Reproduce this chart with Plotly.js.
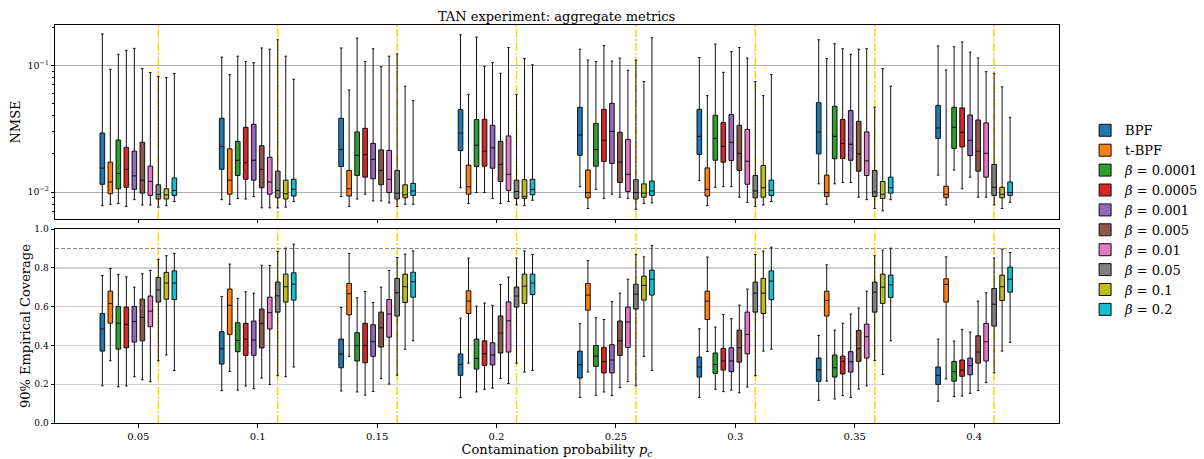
<!DOCTYPE html>
<html>
<head>
<meta charset="utf-8">
<script src="https://cdn.plot.ly/plotly-3.0.1.min.js"></script>
<style>html,body{margin:0;padding:0;background:#fff}#chart{width:1204px;height:459px}</style>
</head>
<body>
<div id="chart"></div>
<script>
// Categories (contamination probability)
const categories = ['0.05','0.1','0.15','0.2','0.25','0.3','0.35','0.4'];
const seriesNames = ['BPF','t-BPF','<i>β</i> = 0.0001','<i>β</i> = 0.0005','<i>β</i> = 0.001','<i>β</i> = 0.005','<i>β</i> = 0.01','<i>β</i> = 0.05','<i>β</i> = 0.1','<i>β</i> = 0.2'];

// NMSE box stats per category: [lower whisker, q1, median, q3, upper whisker]
const nmseBPF  = [[0.0078,0.0115,0.0154,0.0292,0.177],[0.0087,0.0151,0.0229,0.0382,0.116],[0.0092,0.0159,0.0217,0.0382,0.137],[0.0108,0.0212,0.0292,0.0447,0.174],[0.0110,0.0195,0.0282,0.0466,0.134],[0.0123,0.0198,0.0275,0.0449,0.115],[0.0116,0.0200,0.0298,0.0507,0.159],[0.0136,0.0265,0.0320,0.0483,0.142]];
const nmseTBPF = [[0.0080,0.0097,0.0120,0.0172,0.093],[0.0080,0.0096,0.0124,0.0219,0.0844],[0.0077,0.0093,0.0106,0.0148,0.0639],[0.0081,0.0096,0.0110,0.0163,0.059],[0.0074,0.0090,0.0099,0.0149,0.110],[0.0078,0.0093,0.0105,0.0155,0.0576],[0.0080,0.0092,0.0099,0.0136,0.113],[0.0079,0.0090,0.0096,0.0111,0.0919]];
const nmseB0001 = [[0.0081,0.0106,0.0140,0.0257,0.122],[0.0089,0.0135,0.0178,0.0251,0.118],[0.0088,0.0135,0.0195,0.0298,0.164],[0.0099,0.0159,0.0234,0.0373,0.167],[0.0105,0.0160,0.0216,0.0348,0.107],[0.0109,0.0178,0.0265,0.0403,0.147],[0.0116,0.0183,0.0275,0.0475,0.148],[0.0149,0.0221,0.0324,0.0466,0.140]];
const nmseB0005 = [[0.0077,0.0109,0.0151,0.0225,0.131],[0.0088,0.0126,0.0170,0.0324,0.107],[0.0096,0.0131,0.0197,0.0318,0.107],[0.0099,0.0160,0.0210,0.0375,0.0982],[0.0089,0.0174,0.0256,0.0449,0.143],[0.0110,0.0172,0.0229,0.0353,0.088],[0.0119,0.0184,0.0242,0.0373,0.135],[0.0106,0.0227,0.0296,0.0461,0.153]];
const nmseB001 = [[0.0087,0.0105,0.0134,0.0210,0.136],[0.0092,0.0124,0.0178,0.0342,0.105],[0.0085,0.0127,0.0181,0.0242,0.135],[0.0089,0.0154,0.0223,0.0336,0.105],[0.0096,0.0168,0.0301,0.0501,0.108],[0.0110,0.0177,0.0247,0.0408,0.128],[0.0119,0.0178,0.0238,0.0439,0.122],[0.0131,0.0194,0.0256,0.0405,0.127]];
const nmseB005 = [[0.0079,0.0098,0.0124,0.0247,0.0941],[0.0075,0.0108,0.0151,0.0232,0.137],[0.0085,0.0114,0.0148,0.0215,0.0976],[0.0081,0.0121,0.0165,0.0251,0.0865],[0.0091,0.0119,0.0172,0.0296,0.114],[0.0091,0.0148,0.0202,0.0336,0.138],[0.0091,0.0146,0.0200,0.0361,0.134],[0.0091,0.0146,0.0210,0.0370,0.114]];
const nmseB01 = [[0.0079,0.0094,0.0121,0.0160,0.0875],[0.0075,0.0096,0.0120,0.0188,0.134],[0.0082,0.0099,0.0126,0.0213,0.118],[0.0084,0.0103,0.0138,0.0277,0.138],[0.0089,0.0101,0.0138,0.0260,0.0913],[0.0083,0.0115,0.0175,0.0312,0.114],[0.0087,0.0135,0.0176,0.0298,0.135],[0.0091,0.0131,0.0202,0.0351,0.0891]];
const nmseB05 = [[0.0076,0.0088,0.0096,0.0114,0.0814],[0.0075,0.0090,0.0103,0.0146,0.159],[0.0077,0.0088,0.0098,0.0148,0.123],[0.0079,0.0089,0.0101,0.0124,0.059],[0.0073,0.0088,0.0099,0.0125,0.110],[0.0077,0.0090,0.0102,0.0135,0.0743],[0.0074,0.0092,0.0100,0.0148,0.0466],[0.0079,0.0094,0.0109,0.0165,0.0865]];
const nmseB1 = [[0.0078,0.0088,0.0095,0.0106,0.0799],[0.0076,0.0088,0.0097,0.0124,0.118],[0.0080,0.0090,0.0095,0.0114,0.0683],[0.0078,0.0089,0.0092,0.0125,0.113],[0.0081,0.0091,0.0098,0.0116,0.0743],[0.0079,0.0091,0.0108,0.0162,0.0576],[0.0071,0.0089,0.0096,0.0121,0.0941],[0.0074,0.0090,0.0096,0.0109,0.0675]];
const nmseB2 = [[0.0084,0.0094,0.0103,0.0129,0.086],[0.0084,0.0093,0.0105,0.0126,0.0775],[0.0080,0.0094,0.0102,0.0117,0.0526],[0.0086,0.0095,0.0105,0.0126,0.101],[0.0082,0.0094,0.0102,0.0122,0.165],[0.0084,0.0094,0.0103,0.0124,0.0844],[0.0087,0.0098,0.0108,0.0131,0.0683],[0.0083,0.0094,0.0099,0.0120,0.0389]];

// 90% empirical coverage box stats: [lower whisker, q1, median, q3, upper whisker]
const covBPF  = [[0.192,0.371,0.485,0.565,0.761],[0.167,0.304,0.383,0.471,0.653],[0.165,0.285,0.356,0.433,0.596],[0.131,0.246,0.302,0.356,0.541],[0.132,0.232,0.301,0.371,0.512],[0.132,0.237,0.289,0.340,0.486],[0.117,0.215,0.275,0.335,0.452],[0.113,0.199,0.246,0.289,0.433]];
const covTBPF = [[0.321,0.515,0.617,0.680,0.797],[0.266,0.457,0.607,0.691,0.820],[0.344,0.558,0.667,0.720,0.875],[0.309,0.565,0.629,0.682,0.851],[0.263,0.582,0.660,0.720,0.838],[0.369,0.534,0.629,0.680,0.856],[0.216,0.552,0.632,0.680,0.816],[0.227,0.624,0.715,0.744,0.857]];
const covB0001 = [[0.187,0.381,0.515,0.601,0.766],[0.170,0.368,0.426,0.517,0.643],[0.160,0.320,0.399,0.466,0.646],[0.160,0.278,0.333,0.433,0.603],[0.143,0.292,0.345,0.400,0.543],[0.174,0.256,0.302,0.361,0.495],[0.124,0.237,0.285,0.351,0.479],[0.136,0.216,0.265,0.318,0.423]];
const covB0005 = [[0.191,0.388,0.509,0.598,0.754],[0.191,0.349,0.433,0.514,0.677],[0.144,0.311,0.400,0.514,0.679],[0.174,0.297,0.357,0.424,0.619],[0.160,0.258,0.316,0.390,0.534],[0.162,0.273,0.320,0.385,0.560],[0.141,0.253,0.318,0.345,0.515],[0.139,0.241,0.273,0.325,0.483]];
const covB001 = [[0.239,0.418,0.524,0.601,0.701],[0.177,0.349,0.428,0.526,0.670],[0.163,0.344,0.419,0.507,0.622],[0.180,0.299,0.351,0.414,0.607],[0.141,0.258,0.325,0.404,0.627],[0.170,0.266,0.320,0.388,0.538],[0.132,0.263,0.316,0.368,0.562],[0.153,0.249,0.296,0.335,0.469]];
const covB005 = [[0.223,0.424,0.545,0.639,0.770],[0.232,0.387,0.514,0.588,0.814],[0.229,0.392,0.491,0.572,0.701],[0.230,0.361,0.464,0.552,0.715],[0.182,0.349,0.424,0.526,0.670],[0.156,0.314,0.388,0.479,0.608],[0.175,0.318,0.383,0.478,0.593],[0.167,0.309,0.366,0.450,0.629]];
const covB01 = [[0.213,0.497,0.577,0.655,0.787],[0.199,0.485,0.569,0.649,0.813],[0.201,0.443,0.562,0.637,0.787],[0.204,0.366,0.527,0.625,0.753],[0.213,0.390,0.521,0.598,0.742],[0.186,0.357,0.457,0.572,0.691],[0.192,0.335,0.445,0.510,0.680],[0.208,0.320,0.419,0.514,0.672]];
const covB05 = [[0.321,0.624,0.687,0.751,0.844],[0.244,0.572,0.656,0.727,0.885],[0.247,0.552,0.672,0.746,0.854],[0.309,0.598,0.655,0.701,0.851],[0.192,0.588,0.665,0.716,0.869],[0.244,0.572,0.670,0.727,0.869],[0.323,0.572,0.675,0.727,0.863],[0.259,0.500,0.613,0.694,0.851]];
const covB1 = [[0.351,0.639,0.722,0.777,0.863],[0.239,0.624,0.703,0.768,0.902],[0.381,0.622,0.703,0.768,0.871],[0.263,0.617,0.706,0.768,0.888],[0.344,0.634,0.710,0.758,0.857],[0.371,0.565,0.670,0.746,0.887],[0.251,0.617,0.701,0.768,0.892],[0.371,0.632,0.703,0.763,0.897]];
const covB2 = [[0.271,0.637,0.722,0.785,0.875],[0.289,0.634,0.716,0.775,0.923],[0.424,0.649,0.729,0.778,0.888],[0.271,0.663,0.722,0.768,0.869],[0.271,0.660,0.742,0.789,0.916],[0.381,0.637,0.732,0.785,0.907],[0.424,0.648,0.713,0.763,0.902],[0.416,0.675,0.742,0.804,0.880]];

const coverageTarget = 0.9;

const nmseSeries = [nmseBPF,nmseTBPF,nmseB0001,nmseB0005,nmseB001,nmseB005,nmseB01,nmseB05,nmseB1,nmseB2];
const covSeries  = [covBPF,covTBPF,covB0001,covB0005,covB001,covB005,covB01,covB05,covB1,covB2];
const colors = ['#1f77b4','#ff7f0e','#2ca02c','#d62728','#9467bd','#8c564b','#e377c2','#7f7f7f','#bcbd22','#17becf'];

const BOXGAP = 0.33, BOXGROUPGAP = 0.42;
const FONT = 'DejaVu Serif, serif';

function boxTrace(stats, i, xa, ya, showLeg, group) {
  return {
    type: 'box', name: seriesNames[i], legendgroup: 's' + i, showlegend: showLeg,
    alignmentgroup: group, offsetgroup: 'o' + i,
    x: categories, xaxis: xa, yaxis: ya,
    lowerfence: stats.map(r => r[0]), q1: stats.map(r => r[1]), median: stats.map(r => r[2]),
    q3: stats.map(r => r[3]), upperfence: stats.map(r => r[4]),
    fillcolor: colors[i], line: {color: '#111', width: 1}, whiskerwidth: 0.55,
    boxpoints: false, hoverinfo: 'skip'
  };
}

const data = [];
nmseSeries.forEach((s, i) => data.push(boxTrace(s, i, 'x', 'y', true, 'top')));
covSeries.forEach((s, i) => data.push(boxTrace(s, i, 'x2', 'y2', false, 'bottom')));

// dash-dot marker lines through the beta=0.05 slot of each group
const nSeries = seriesNames.length;
const slotOffset = (7 - (nSeries - 1) / 2) * (1 - BOXGAP) / nSeries;
const shapes = [];
categories.forEach((c, i) => {
  [['x','y domain'],['x2','y2 domain']].forEach(([xr, yr]) => {
    shapes.push({type:'line', xref:xr, yref:yr, x0:i + slotOffset, x1:i + slotOffset, y0:0, y1:1,
      line:{color:'#FFD700', width:1.5, dash:'8px,2px,2px,2px'}, layer:'below'});
  });
});
shapes.push({type:'line', xref:'x2 domain', yref:'y2', x0:0, x1:1, y0:coverageTarget, y1:coverageTarget,
  line:{color:'#888', width:1, dash:'4px,2px'}, layer:'below'});

const xRange = [-0.698, 7.711];
const axisCommon = {showline:true, linecolor:'#000', linewidth:1, mirror:true, ticks:'outside', ticklen:3.5, tickcolor:'#000',
  tickfont:{family:FONT, size:10, color:'#000'}, zeroline:false};

const layout = {
  width: 1204, height: 459,
  margin: {l:55, r:145, t:25, b:36, autoexpand:false},
  paper_bgcolor:'#fff', plot_bgcolor:'#fff',
  font: {family: FONT, color:'#000'},
  title: {text:'TAN experiment: aggregate metrics', font:{family:FONT, size:13, color:'#000'}, x:0.4623, xanchor:'center', y:0.965, yanchor:'middle'},
  boxmode: 'group', boxgap: BOXGAP, boxgroupgap: BOXGROUPGAP,
  xaxis: Object.assign({}, axisCommon, {type:'category', anchor:'y', range:xRange, showticklabels:false, showgrid:false}),
  xaxis2: Object.assign({}, axisCommon, {type:'category', anchor:'y2', range:xRange, showgrid:false,
    title:{text:'Contamination probability <i>p</i><sub><i>c</i></sub>', font:{family:FONT, size:13, color:'#000'}, standoff:4}}),
  yaxis: Object.assign({}, axisCommon, {type:'log', domain:[0.5126, 1], range:[-2.213, -0.682], dtick:1, exponentformat:'power',
    tickfont:{family:FONT, size:7.5, color:'#000'},
    showgrid:true, gridcolor:'#b0b0b0', gridwidth:1,
    minor:{ticks:'outside', ticklen:2, tickcolor:'#000', dtick:'D1', showgrid:false},
    title:{text:'NMSE', font:{family:FONT, size:13, color:'#000'}, standoff:3}}),
  yaxis2: Object.assign({}, axisCommon, {domain:[0, 0.487], range:[0, 1], dtick:0.2, tickformat:'.1f',
    tickfont:{family:FONT, size:9, color:'#000'},
    showgrid:true, gridcolor:'#cfcfcf', gridwidth:1.2,
    title:{text:'90% Empirical Coverage', font:{family:FONT, size:13, color:'#000'}, standoff:0}}),
  legend: {x:1.026, xanchor:'left', y:0.773, yanchor:'top', font:{family:FONT, size:13, color:'#000'},
    bgcolor:'rgba(0,0,0,0)', tracegroupgap:0, itemwidth:30},
  shapes: shapes
};

Plotly.newPlot('chart', data, layout, {staticPlot:true, displayModeBar:false});
</script>
</body>
</html>
